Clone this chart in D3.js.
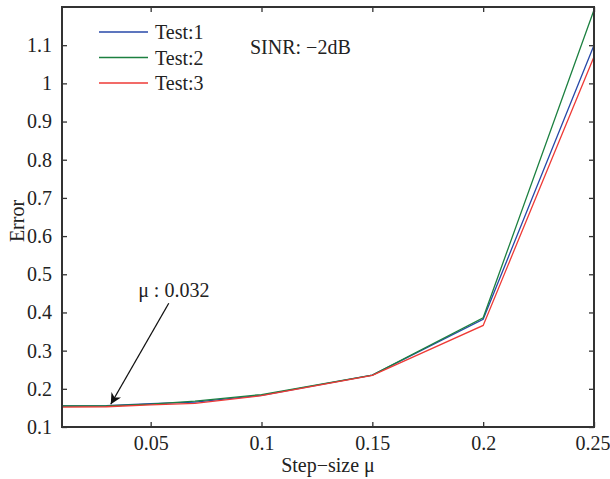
<!DOCTYPE html>
<html lang="en">
<head>
	<meta charset="UTF-8">
	<title>Error vs step-size</title>
	<script src="https://d3js.org/d3.v7.min.js"></script>
	<style>
		body { margin: 0; background: #fff; }
		text { font-family: "Liberation Serif", "DejaVu Serif", serif; fill: #222; }
	</style>
</head>
<body>
	<script>
		// data
		var steps = [0.01, 0.03, 0.05, 0.07, 0.1, 0.15, 0.2, 0.25];
		var test1 = [0.155, 0.156, 0.161, 0.165, 0.183, 0.236, 0.382, 1.10];
		var test2 = [0.155, 0.155, 0.160, 0.168, 0.185, 0.236, 0.386, 1.192];
		var test3 = [0.152, 0.153, 0.158, 0.162, 0.182, 0.235, 0.366, 1.07];
		var names = ["Test:1", "Test:2", "Test:3"];
		var colors = ["#2748a8", "#1c8040", "#ee3a36"];
		var xTicks = [0.05, 0.1, 0.15, 0.2, 0.25];
		var yTicks = [0.1, 0.2, 0.3, 0.4, 0.5, 0.6, 0.7, 0.8, 0.9, 1, 1.1];
		var mark = {x: 0.032, y: 0.157, label: "\u03bc : 0.032"};

		var w = 610, h = 479;
		var m = {top: 7, right: 16, bottom: 52, left: 62};
		var iw = w - m.left - m.right, ih = h - m.top - m.bottom;
		var fs = 20;

		var svg = d3.select("body").append("svg")
			.attr("width", w).attr("height", h);

		var defs = svg.append("defs");
		defs.append("marker").attr("id", "head")
			.attr("viewBox", "0 0 10 10").attr("refX", 10).attr("refY", 5)
			.attr("markerWidth", 16).attr("markerHeight", 11)
			.attr("markerUnits", "userSpaceOnUse")
			.attr("orient", "auto")
			.append("path").attr("d", "M0,0 L10,5 L0,10 L3,5 Z").attr("fill", "#111");

		var g = svg.append("g").attr("transform", "translate(" + m.left + "," + m.top + ")");

		var x = d3.scaleLinear().domain([0.01, 0.25]).range([0, iw]);
		var y = d3.scaleLinear().domain([0.1, 1.2]).range([ih, 0]);

		var fmt = function(d){ return String(+d.toFixed(2)); };

		// axes, ticks pointing inward on all sides
		var axB = d3.axisBottom(x).tickValues(xTicks).tickSizeInner(-5).tickSizeOuter(0).tickPadding(9).tickFormat(fmt);
		var axT = d3.axisTop(x).tickValues(xTicks).tickSizeInner(-5).tickSizeOuter(0).tickFormat("");
		var axL = d3.axisLeft(y).tickValues(yTicks).tickSizeInner(-5).tickSizeOuter(0).tickPadding(10).tickFormat(fmt);
		var axR = d3.axisRight(y).tickValues(yTicks).tickSizeInner(-5).tickSizeOuter(0).tickFormat("");

		var axes = [
			g.append("g").attr("transform", "translate(0," + ih + ")").call(axB),
			g.append("g").call(axT),
			g.append("g").call(axL),
			g.append("g").attr("transform", "translate(" + iw + ",0)").call(axR)
		];
		axes.forEach(function(a){
			a.attr("font-family", null).attr("font-size", null);
			a.select(".domain").remove();
			a.selectAll("line").attr("stroke", "#333").attr("stroke-width", 1.3);
			a.selectAll("text").attr("font-size", fs).attr("fill", "#222");
		});
		// keep the last x label inside the window
		axes[0].selectAll(".tick text").filter(function(d){ return d === 0.25; })
			.attr("text-anchor", "end").attr("x", 16);

		// lines
		var line = d3.line().x(function(d){ return x(d[0]); }).y(function(d){ return y(d[1]); });
		[test1, test2, test3].forEach(function(s, i){
			g.append("path")
				.datum(steps.map(function(v, j){ return [v, s[j]]; }))
				.attr("d", line)
				.attr("fill", "none")
				.attr("stroke", colors[i])
				.attr("stroke-width", 1.3);
		});

		// frame
		g.append("rect").attr("width", iw).attr("height", ih)
			.attr("fill", "none").attr("stroke", "#333").attr("stroke-width", 2);

		// legend
		var leg = g.append("g").attr("transform", "translate(37,25)");
		names.forEach(function(n, i){
			var r = leg.append("g").attr("transform", "translate(0," + (i * 25.5) + ")");
			r.append("line").attr("x1", 0).attr("x2", 49).attr("y1", 0).attr("y2", 0)
				.attr("stroke", colors[i]).attr("stroke-width", 1.5);
			r.append("text").attr("x", 56).attr("y", 7).attr("font-size", fs).text(n);
		});

		g.append("text").attr("x", 188).attr("y", 47).attr("font-size", fs).text("SINR: \u22122dB");

		// annotation arrow
		g.append("line")
			.attr("x1", x(mark.x) + 58).attr("y1", y(mark.y) - 102)
			.attr("x2", x(mark.x)).attr("y2", y(mark.y) - 1)
			.attr("stroke", "#111").attr("stroke-width", 1.3)
			.attr("marker-end", "url(#head)");
		g.append("text").attr("x", x(mark.x) + 63).attr("y", y(mark.y) - 108)
			.attr("text-anchor", "middle").attr("font-size", fs).text(mark.label);

		// axis titles
		svg.append("text").attr("x", m.left + iw / 2).attr("y", 472)
			.attr("text-anchor", "middle").attr("font-size", fs).text("Step\u2212size \u03bc");
		svg.append("text").attr("transform", "translate(24," + (m.top + ih / 2 + 4) + ") rotate(-90)")
			.attr("text-anchor", "middle").attr("font-size", fs).text("Error");
	</script>
</body>
</html>
